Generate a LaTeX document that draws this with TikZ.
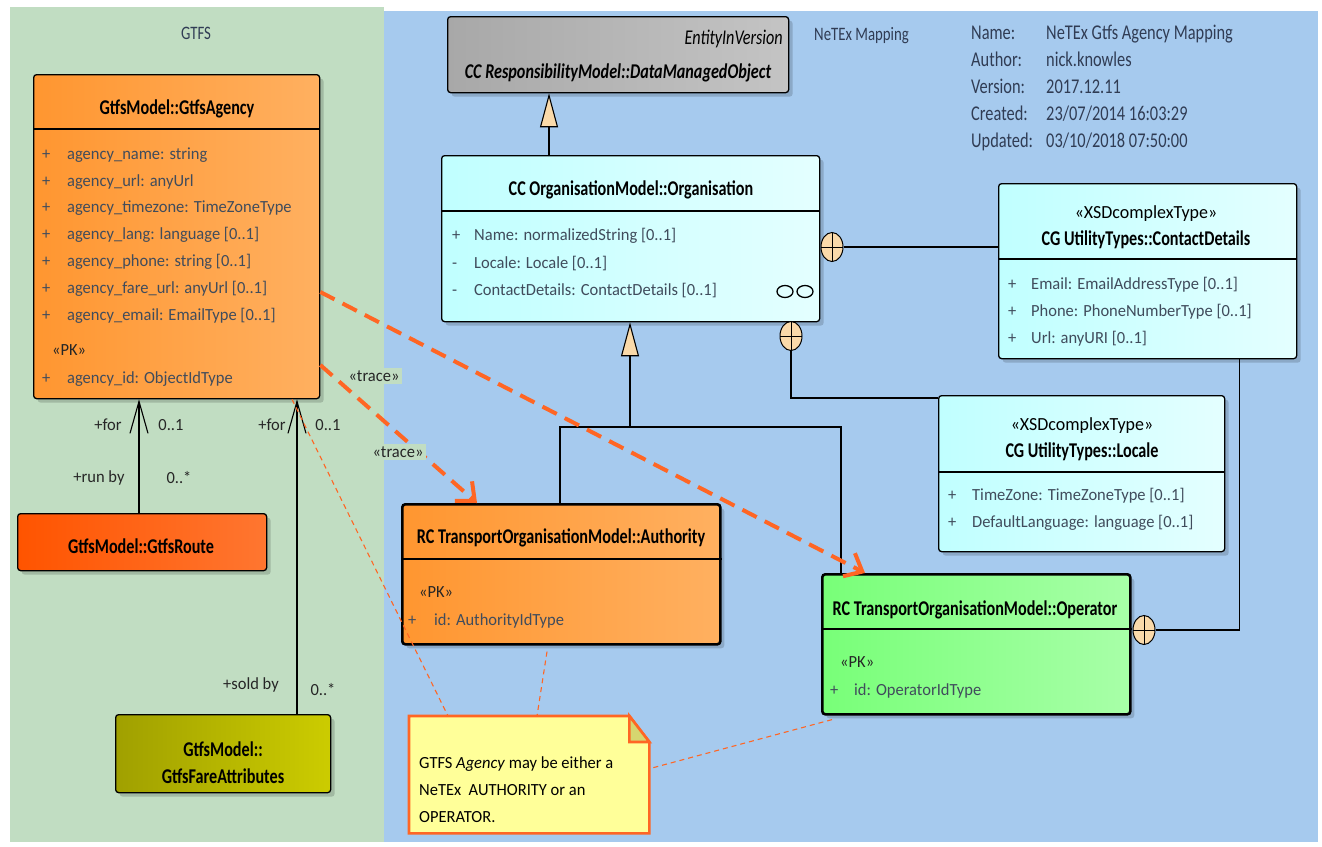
\documentclass[tikz,border=0pt]{standalone}
\usepackage{fontspec}
\setmainfont{Carlito}
\newfontfamily\tfont{Carlito}[FakeStretch=0.77]
\newfontfamily\afont{Carlito}[FakeStretch=0.97]
\newfontfamily\ifont{Carlito}[FakeStretch=0.78]
\usetikzlibrary{arrows.meta,shapes.geometric,shadows}

\definecolor{greenpanel}{RGB}{193,221,194}
\definecolor{bluepanel}{RGB}{166,202,238}
\definecolor{attrc}{RGB}{64,76,92}
\definecolor{infoc}{RGB}{48,60,84}
\definecolor{tri}{RGB}{250,218,170}
\definecolor{traceo}{RGB}{255,102,36}
\definecolor{orL}{RGB}{255,150,48}
\definecolor{orR}{RGB}{255,176,96}
\definecolor{rtL}{RGB}{255,84,0}
\definecolor{rtR}{RGB}{255,118,48}
\definecolor{olL}{RGB}{160,160,0}
\definecolor{olR}{RGB}{204,204,0}
\definecolor{gyL}{RGB}{168,168,168}
\definecolor{gyR}{RGB}{196,196,196}
\definecolor{cyL}{RGB}{192,255,255}
\definecolor{cyR}{RGB}{228,255,255}
\definecolor{grL}{RGB}{120,255,120}
\definecolor{grR}{RGB}{168,255,168}
\definecolor{noteY}{RGB}{255,255,153}
\definecolor{noteF}{RGB}{214,214,112}

\tikzset{
  box/.style={draw=black, line width=1.3pt, rounded corners=3pt, anchor=north west,
    inner sep=0pt, drop shadow={shadow xshift=4pt, shadow yshift=-4pt, fill=black, opacity=0.16}},
  heavy/.style={box, line width=2.6pt},
  orangebox/.style={left color=orL, right color=orR},
  cyanbox/.style={left color=cyL, right color=cyR},
  sep/.style={line width=1.3pt},
  heavysep/.style={line width=2.6pt},
  ttl/.style={font=\tfont\bfseries\fontsize{21}{23}\selectfont, anchor=base, inner sep=0pt},
  attr/.style={font=\afont\fontsize{17}{19}\selectfont, text=attrc, anchor=base west, inner sep=0pt},
  pk/.style={font=\afont\fontsize{17}{19}\selectfont, text=black!85, anchor=base west, inner sep=0pt},
  ster/.style={font=\afont\fontsize{18.5}{20}\selectfont, anchor=base, inner sep=0pt},
  info/.style={font=\ifont\fontsize{21}{23}\selectfont, text=infoc, anchor=base west, inner sep=0pt},
  pkglbl/.style={font=\ifont\fontsize{19}{21}\selectfont, text=infoc, inner sep=0pt},
  lbl/.style={font=\afont\fontsize{17}{19}\selectfont, text=black!85, inner sep=0pt},
  tracelbl/.style={font=\afont\fontsize{17}{19}\selectfont, text=black!85, fill=greenpanel, inner sep=3pt},
  notetext/.style={font=\afont\fontsize{17}{19}\selectfont, text=black, anchor=base west, inner sep=0pt},
  nest/.style={ellipse, draw=black, line width=1pt, fill=tri, minimum width=22pt, minimum height=29pt,
    inner sep=0pt, path picture={\draw[line width=1pt]
      (path picture bounding box.north) -- (path picture bounding box.south)
      (path picture bounding box.west) -- (path picture bounding box.east);}},
  gen/.style={line width=1.1pt, -{Triangle[length=34pt,width=18pt,fill=tri]}},
  assoc/.style={line width=1.1pt, -{Straight Barb[length=32pt,width=18pt]}},
  plain/.style={line width=1.1pt},
  trace/.style={draw=traceo, line width=4pt, dash pattern=on 16pt off 9pt,
    -{Straight Barb[length=15pt,width=26pt]}},
  notelink/.style={draw=traceo, line width=1.1pt, dash pattern=on 5pt off 4pt},
}

% one attribute row: name, x of marker, x of text, baseline, marker, text
\newcommand{\arow}[6]{%
  \node[attr] (#1m) at (#2,#4) {#5};
  \node[attr] (#1) at (#3,#4) {#6};}

\begin{document}
\begin{tikzpicture}[x=1pt,y=-1pt]
\useasboundingbox (0,0) rectangle (1322,846);
\fill[white] (0,0) rectangle (1322,846);
\fill[greenpanel] (10,7) rectangle (384,842);
\fill[bluepanel] (384,11) rectangle (1318,842);

% package labels
\node[pkglbl, anchor=base] (gtfslbl) at (196,39) {GTFS};
\node[pkglbl, anchor=base west] (netexlbl) at (814,40) {NeTEx Mapping};

% diagram properties
\node[info] (k1) at (971,39) {Name:};
\node[info] (k2) at (971,66) {Author:};
\node[info] (k3) at (971,93) {Version:};
\node[info] (k4) at (971,120) {Created:};
\node[info] (k5) at (971,147) {Updated:};
\node[info] (v1) at (1046,39) {NeTEx Gtfs Agency Mapping};
\node[info] (v2) at (1046,66) {nick.knowles};
\node[info] (v3) at (1046,93) {2017.12.11};
\node[info] (v4) at (1046,120) {23/07/2014 16:03:29};
\node[info] (v5) at (1046,147) {03/10/2018 07:50:00};

% ---------------- GTFS classes ----------------
\node[box, orangebox, minimum width=286pt, minimum height=324pt] (agency) at (33,74) {};
\draw[sep] ([yshift=-55pt]agency.north west) -- ([yshift=-55pt]agency.north east);
\node[ttl] (agencyt) at (177,114) {GtfsModel::GtfsAgency};
\arow{ag1}{42}{67}{159}{+}{agency\_name: string}
\arow{ag2}{42}{67}{186}{+}{agency\_url: anyUrl}
\arow{ag3}{42}{67}{212}{+}{agency\_timezone: TimeZoneType}
\arow{ag4}{42}{67}{239}{+}{agency\_lang: language [0..1]}
\arow{ag5}{42}{67}{266}{+}{agency\_phone: string [0..1]}
\arow{ag6}{42}{67}{293}{+}{agency\_fare\_url: anyUrl [0..1]}
\arow{ag7}{42}{67}{320}{+}{agency\_email: EmailType [0..1]}
\node[pk] (agpk) at (52,355) {«PK»};
\arow{ag8}{42}{67}{383}{+}{agency\_id: ObjectIdType}

\node[box, left color=rtL, right color=rtR, minimum width=249pt, minimum height=57pt] (route) at (17,513) {};
\node[ttl] (routet) at (141,553) {GtfsModel::GtfsRoute};

\node[box, left color=olL, right color=olR, minimum width=215pt, minimum height=78pt] (fare) at (115,714) {};
\node[ttl] (faret1) at (223,756) {GtfsModel::};
\node[ttl] (faret2) at (223,783) {GtfsFareAttributes};

% ---------------- NeTEx classes ----------------
\node[box, left color=gyL, right color=gyR, minimum width=341pt, minimum height=76pt] (dmo) at (447,16) {};
\node[font=\tfont\itshape\fontsize{21}{23}\selectfont, anchor=base east, inner sep=0pt] (dmos) at (783,44) {EntityInVersion};
\node[ttl, font=\tfont\bfseries\itshape\fontsize{21}{23}\selectfont] (dmot) at (618,78) {CC ResponsibilityModel::DataManagedObject};

\node[box, cyanbox, minimum width=378pt, minimum height=166pt] (org) at (441,155) {};
\draw[sep] ([yshift=-56pt]org.north west) -- ([yshift=-56pt]org.north east);
\node[ttl] (orgt) at (631,195) {CC OrganisationModel::Organisation};
\arow{or1}{452}{474}{240}{+}{Name: normalizedString [0..1]}
\arow{or2}{452}{474}{268}{-}{Locale: Locale [0..1]}
\arow{or3}{452}{474}{295}{-}{ContactDetails: ContactDetails [0..1]}
% association-class glasses symbol
\draw[line width=1.3pt] (785,291.5) ellipse [x radius=8, y radius=6];
\draw[line width=1.3pt] (805,291.5) ellipse [x radius=8, y radius=6];

\node[box, cyanbox, minimum width=298pt, minimum height=175pt] (contact) at (998,183) {};
\draw[sep] ([yshift=-76pt]contact.north west) -- ([yshift=-76pt]contact.north east);
\node[ster] (contacts) at (1146,218) {«XSDcomplexType»};
\node[ttl] (contactt) at (1146,245) {CG UtilityTypes::ContactDetails};
\arow{cd1}{1008}{1031}{289}{+}{Email: EmailAddressType [0..1]}
\arow{cd2}{1008}{1031}{316}{+}{Phone: PhoneNumberType [0..1]}
\arow{cd3}{1008}{1031}{343}{+}{Url: anyURI [0..1]}

\node[box, cyanbox, minimum width=286pt, minimum height=156pt] (locale) at (938,395) {};
\draw[sep] ([yshift=-77pt]locale.north west) -- ([yshift=-77pt]locale.north east);
\node[ster] (locales) at (1082,430) {«XSDcomplexType»};
\node[ttl] (localet) at (1082,457) {CG UtilityTypes::Locale};
\arow{lo1}{948}{972}{500}{+}{TimeZone: TimeZoneType [0..1]}
\arow{lo2}{948}{972}{527}{+}{DefaultLanguage: language [0..1]}

\node[heavy, orangebox, minimum width=318pt, minimum height=140pt] (auth) at (401,503) {};
\draw[heavysep] ([yshift=-56pt]auth.north west) -- ([yshift=-56pt]auth.north east);
\node[ttl] (autht) at (561,543) {RC TransportOrganisationModel::Authority};
\node[pk] (authpk) at (419,597) {«PK»};
\arow{au1}{408}{434}{625}{+}{id: AuthorityIdType}

\node[heavy, left color=grL, right color=grR, minimum width=308pt, minimum height=140pt] (op) at (821,573) {};
\draw[heavysep] ([yshift=-56pt]op.north west) -- ([yshift=-56pt]op.north east);
\node[ttl] (opt) at (975,615) {RC TransportOrganisationModel::Operator};
\node[pk] (oppk) at (840,667) {«PK»};
\arow{op1}{830}{854}{695}{+}{id: OperatorIdType}

% note
\node[anchor=north west, minimum width=240pt, minimum height=117pt, inner sep=0pt] (note) at (409,716) {};
\draw[draw=traceo, line width=2.6pt, fill=noteY, line join=miter]
  (note.north west) -- ([xshift=-20pt]note.north east) -- ([yshift=-26pt]note.north east)
  -- (note.south east) -- (note.south west) -- cycle;
\draw[draw=traceo, line width=2.6pt, fill=noteF, line join=miter]
  ([xshift=-20pt]note.north east) -- ([xshift=-20pt,yshift=-26pt]note.north east)
  -- ([yshift=-26pt]note.north east) -- cycle;
\node[notetext] (n1) at (419,768) {GTFS \textit{Agency} may be either a};
\node[notetext] (n2) at (419,795) {NeTEx\ \ AUTHORITY or an};
\node[notetext] (n3) at (419,822) {OPERATOR.};

% nesting markers
\node[nest] (plusA) at (832,247) {};
\node[nest] (plusB) at (791,336) {};
\node[nest] (plusC) at (1144,630) {};

% ---------------- connectors ----------------
% generalizations
\draw[gen] ([xshift=108pt]org.north west) -- ([xshift=108pt]org.north west |- dmo.south);
\coordinate (gj) at (630,427);
\draw[gen] (gj) -- (gj |- org.south);
\draw[plain] ([xshift=159pt]auth.north west) |- (gj);
\draw[plain] ([xshift=20pt]op.north west) |- (gj);

% nested classifiers
\draw[plain] (plusA.east) -- (plusA.east -| contact.west);
\draw[plain] (plusB.south) |- ([yshift=-3pt]locale.north west);
\draw[plain] (plusC.east) -| ([xshift=-58pt]contact.south east);

% GTFS associations
\draw[assoc] ([xshift=122pt]route.north west) -- ([xshift=122pt]route.north west |- agency.south);
\draw[assoc] ([xshift=182pt]fare.north west) -- ([xshift=182pt]fare.north west |- agency.south);
\node[lbl] (m1) at (108,425) {+for};
\node[lbl] (m2) at (171,425) {0..1};
\node[lbl] (m3) at (99,478) {+run by};
\node[lbl] (m4) at (179,478) {0..*};
\node[lbl] (m5) at (272,425) {+for};
\node[lbl] (m6) at (328,425) {0..1};
\node[lbl] (m7) at (251,685) {+sold by};
\node[lbl] (m8) at (323,690) {0..*};

% note links
\draw[notelink] ([xshift=259pt]agency.south west) -- ([xshift=39pt]note.north west);
\draw[notelink] ([xshift=146pt,yshift=-6pt]auth.south west) -- ([xshift=128pt]note.north west);
\draw[notelink] ([xshift=11pt,yshift=-4pt]op.south west) -- ([yshift=6pt]note.east);

% trace dependencies
\draw[trace] ([yshift=-218pt]agency.north east) -- ([xshift=44pt]op.north west);
\draw[trace] ([yshift=-291pt]agency.north east) -- ([xshift=76pt]auth.north west);
\node[tracelbl] (tr1) at (374,376) {«trace»};
\node[tracelbl] (tr2) at (398,452) {«trace»};
\end{tikzpicture}
\end{document}
